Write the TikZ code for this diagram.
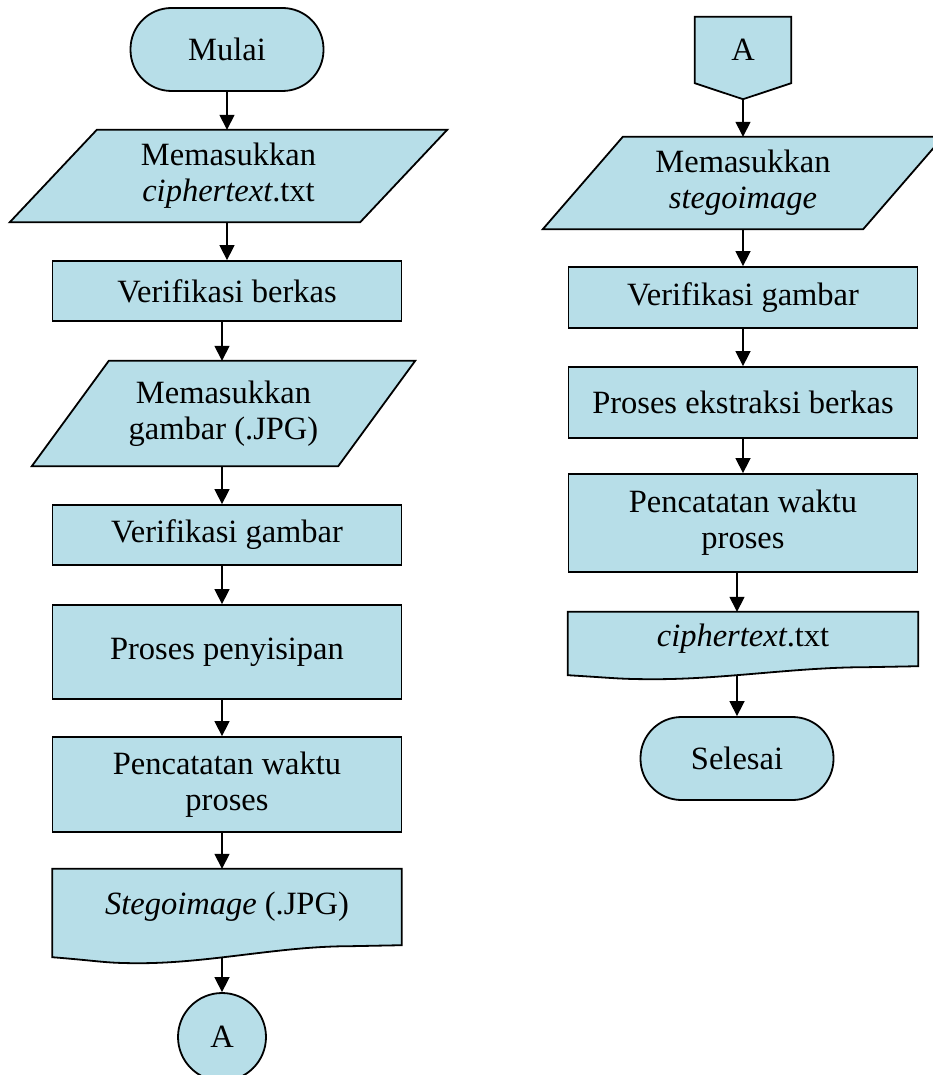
\documentclass[tikz,border=0pt]{standalone}
\usepackage{fontspec}
\setmainfont{Liberation Serif}
\usetikzlibrary{arrows.meta,calc}
\definecolor{fillblue}{RGB}{183,222,232}
\pgfdeclarelayer{arrowlayer}
\pgfdeclarelayer{shapelayer}
\pgfsetlayers{arrowlayer,shapelayer,main}
\tikzset{
  shp/.style={draw=black, line width=1.8pt, fill=fillblue, line join=miter},
  txt/.style={font=\fontsize{32.5}{36}\selectfont, align=center, inner sep=0pt},
  procbox/.style={shp, txt, rectangle, minimum width=349pt},
  termbox/.style={shp, txt, rectangle, rounded corners=41pt, minimum width=193pt, minimum height=83pt},
  frame/.style={txt, rectangle, draw=none},
  conncirc/.style={shp, txt, circle, minimum size=88pt},
  arr/.style={line width=1.5pt, -{Triangle[width=15pt,length=15pt]}}
}
\begin{document}
\begin{tikzpicture}[x=1pt,y=-1pt]
\useasboundingbox (0,0) rectangle (933,1075);
\clip (0,0) rectangle (933,1075);
\begin{pgfonlayer}{arrowlayer}
  \fill[white] (0,0) rectangle (933,1075);
\end{pgfonlayer}

% ---------- left column ----------
\node[termbox] (start) at (227,49.5) {Mulai};
\node[frame, minimum width=350pt, minimum height=92pt] (in1) at (228.5,176) {Memasukkan\\\textit{ciphertext}.txt};
\node[procbox, minimum height=60pt] (box1) at (227,291) {Verifikasi berkas};
\node[frame, minimum width=306pt, minimum height=105pt] (in2) at (223.5,413.5) {Memasukkan\\gambar (.JPG)};
\node[procbox, minimum height=60pt] (box2) at (227,535) {Verifikasi gambar};
\node[procbox, minimum height=94pt] (box3) at (227,652) {Proses penyisipan};
\node[procbox, minimum height=95pt] (box4) at (227,784.5) {Pencatatan waktu\\proses};
\node[frame, minimum width=349pt, minimum height=76pt] (doc1) at (227,907) {\textit{Stegoimage} (.JPG)};
\node[conncirc] (conB) at (222,1037) {A};

% ---------- right column ----------
\node[frame, minimum width=96pt, minimum height=66pt] (conA) at (743,50) {A};
\coordinate (conAtip) at ($(conA.south)+(0,16)$);
\node[frame, minimum width=320pt, minimum height=92pt] (in3) at (743,183) {Memasukkan\\\textit{stegoimage}};
\node[procbox, minimum height=61pt] (box5) at (743,297.5) {Verifikasi gambar};
\node[procbox, minimum height=71pt] (box6) at (743,402.5) {Proses ekstraksi berkas};
\node[procbox, minimum height=98pt] (box7) at (743,523) {Pencatatan waktu\\proses};
\node[frame, minimum width=350pt, minimum height=54pt] (doc2) at (743,639) {\textit{ciphertext}.txt};
\node[termbox] (finish) at (737,758.5) {Selesai};

% ---------- shapes behind the texts ----------
\begin{pgfonlayer}{shapelayer}
  \draw[shp] ($(in1.north west)+(43.5,0)$) -- ($(in1.north east)+(43.5,0)$)
    -- ($(in1.south east)+(-43.5,0)$) -- ($(in1.south west)+(-43.5,0)$) -- cycle;
  \draw[shp] ($(in2.north west)+(38.5,0)$) -- ($(in2.north east)+(38.5,0)$)
    -- ($(in2.south east)+(-38.5,0)$) -- ($(in2.south west)+(-38.5,0)$) -- cycle;
  \draw[shp] ($(in3.north west)+(40,0)$) -- ($(in3.north east)+(40,0)$)
    -- ($(in3.south east)+(-40,0)$) -- ($(in3.south west)+(-40,0)$) -- cycle;
  \draw[shp] (conA.north west) -- (conA.north east) -- (conA.south east)
    -- (conAtip) -- (conA.south west) -- cycle;
  \draw[shp] (doc1.north west) -- (doc1.north east) -- (doc1.south east)
    -- ($(doc1.south east)+(-52,1)$)
    .. controls +(-70,0) and +(70,0) .. ($(doc1.south west)+(87,18)$)
    .. controls +(-35,0) and +(50,4) .. ($(doc1.south west)+(0,12)$) -- cycle;
  \draw[shp] (doc2.north west) -- (doc2.north east) -- (doc2.south east)
    -- ($(doc2.south east)+(-52,1)$)
    .. controls +(-70,0) and +(70,0) .. ($(doc2.south west)+(87,13)$)
    .. controls +(-35,0) and +(50,3) .. ($(doc2.south west)+(0,9)$) -- cycle;
\end{pgfonlayer}

% ---------- connectors ----------
\begin{pgfonlayer}{arrowlayer}
  \draw[arr] (start.south) -- (in1.north -| start.south);
  \draw[arr] (in1.south -| box1.north) -- (box1.north);
  \draw[arr] (box1.south -| conB.north) -- (in2.north -| conB.north);
  \draw[arr] (in2.south -| conB.north) -- (box2.north -| conB.north);
  \draw[arr] (box2.south -| conB.north) -- (box3.north -| conB.north);
  \draw[arr] (box3.south -| conB.north) -- (box4.north -| conB.north);
  \draw[arr] (box4.south -| conB.north) -- (doc1.north -| conB.north);
  \draw[arr] (doc1.south -| conB.north) -- (conB.north);

  \draw[arr] (conAtip) -- (in3.north);
  \draw[arr] (in3.south -| conAtip) -- (box5.north -| conAtip);
  \draw[arr] (box5.south -| conAtip) -- (box6.north -| conAtip);
  \draw[arr] (box6.south -| conAtip) -- (box7.north -| conAtip);
  \draw[arr] (box7.south -| finish.north) -- (doc2.north -| finish.north);
  \draw[arr] (doc2.south -| finish.north) -- (finish.north);
\end{pgfonlayer}
\end{tikzpicture}
\end{document}
